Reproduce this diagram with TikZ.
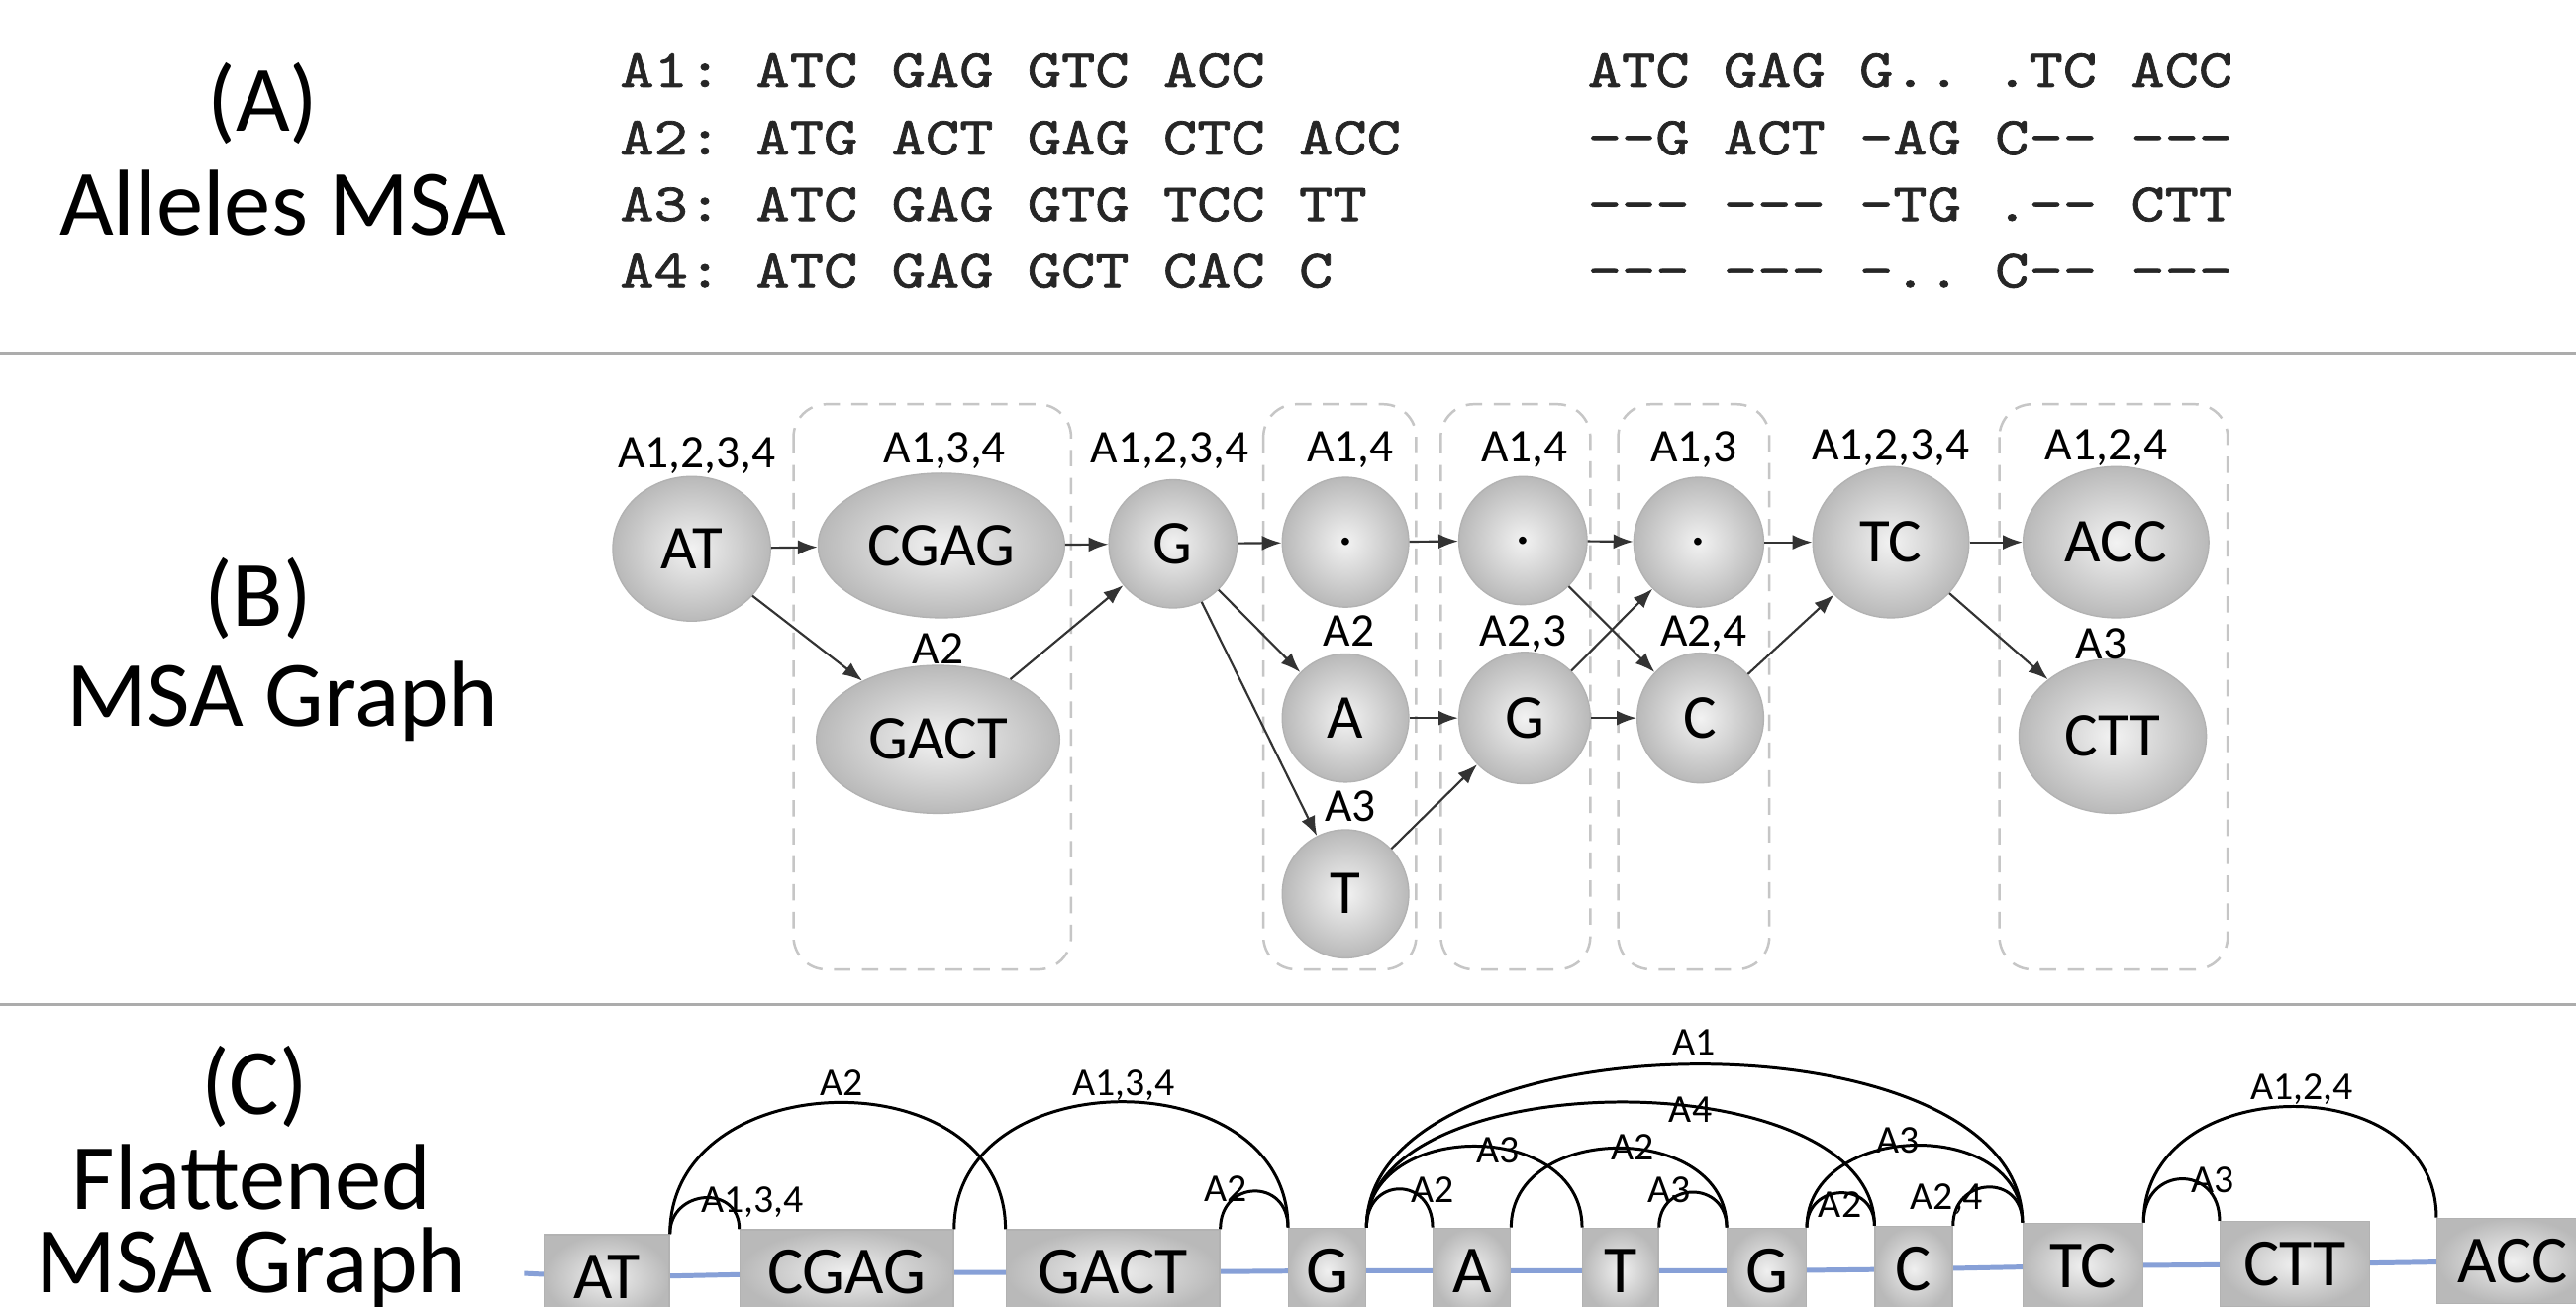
\documentclass[tikz,border=0pt]{standalone}
\usepackage{fontspec}
\setmainfont{Carlito}
\setmonofont{lmmono10-regular.otf}[FakeStretch=1.2,FakeBold=1.3]
\usetikzlibrary{shapes.geometric,arrows.meta,backgrounds}
\definecolor{seqblue}{RGB}{135,160,215}
\tikzset{
  secline/.style={draw=gray!65, line width=0.9pt},
  seclabel/.style={font=\fontsize{28.5}{30}\selectfont, anchor=base, inner sep=0pt},
  msarow/.style={font=\ttfamily\frenchspacing\fontsize{16.4}{18}\selectfont, anchor=base west, inner sep=0pt, text=black!85},
  gnode/.style={ellipse, draw=gray!60, line width=0.4pt, inner color=gray!10, outer color=gray!55,
    inner sep=0pt, font=\fontsize{19}{20}\selectfont},
  glabel/.style={font=\fontsize{14.3}{15}\selectfont, anchor=base, inner sep=0pt},
  grp/.style={draw=gray!45, dash pattern=on 5pt off 3.5pt, line width=0.75pt, rounded corners=10pt},
  arr/.style={-{Latex[length=6pt,width=4.5pt]}, draw=black!80, line width=0.65pt},
  flatbox/.style={rectangle, draw=gray!60, line width=0.4pt, inner color=gray!12, outer color=gray!55,
    inner sep=0pt, minimum height=26pt, anchor=north west, font=\fontsize{20.5}{21}\selectfont},
  flatarc/.style={draw=black, line width=0.9pt},
  alabel/.style={font=\fontsize{12}{13}\selectfont, anchor=base, inner sep=0pt},
  blueline/.style={draw=seqblue, line width=1.5pt},
}
\begin{document}
\begin{tikzpicture}[x=0.5pt,y=-0.5pt]
\useasboundingbox (0,0) rectangle (1568,795);

% section rules
\draw[secline] (0,215.5) -- (1568,215.5);
\draw[secline] (0,611.5) -- (1568,611.5);

% ---------------- (A) alleles MSA ----------------
\node[seclabel] (labA) at (160,80) {(A)};
\node[seclabel] (titA) at (172,143) {Alleles MSA};

\node[msarow] (r1) at (377,53)  {A1: ATC GAG GTC ACC};
\node[msarow] (r2) at (377,94)  {A2: ATG ACT GAG CTC ACC};
\node[msarow] (r3) at (377,134.5) {A3: ATC GAG GTG TCC TT};
\node[msarow] (r4) at (377,175) {A4: ATC GAG GCT CAC C};

\node[msarow] (s1) at (966,53)  {ATC GAG G.. .TC ACC};
\node[msarow] (s2) at (966,94)  {--G ACT -AG C-- ---};
\node[msarow] (s3) at (966,134.5) {--- --- -TG .-- CTT};
\node[msarow] (s4) at (966,175) {--- --- -.. C-- ---};

% ---------------- (B) MSA graph ----------------
\node[seclabel] (labB) at (157,381) {(B)};
\node[seclabel] (titB) at (172,442) {MSA Graph};

% column groups
\draw[grp] (483,246) rectangle (652,590);
\draw[grp] (769,246) rectangle (862,590);
\draw[grp] (877,246) rectangle (968,590);
\draw[grp] (985,246) rectangle (1077,590);
\draw[grp] (1217,246) rectangle (1356,590);

% graph nodes
\node[gnode, minimum width=48pt, minimum height=44pt]   (bAT)   at (421,334)  {AT};
\node[gnode, minimum width=75pt, minimum height=44pt]   (bCGAG) at (573,332)  {CGAG};
\node[gnode, minimum width=74pt, minimum height=45pt]   (bGACT) at (571,450)  {GACT};
\node[gnode, minimum width=39pt, minimum height=39pt]   (bG)    at (714,331)  {G};
\node[gnode, minimum width=38.5pt, minimum height=39.5pt] (bD1) at (819,330)  {.};
\node[gnode, minimum width=38.5pt, minimum height=39pt] (bA)    at (819,437)  {A};
\node[gnode, minimum width=38.5pt, minimum height=39pt] (bT)    at (819,544)  {T};
\node[gnode, minimum width=39pt, minimum height=39pt]   (bD2)   at (927,329)  {.};
\node[gnode, minimum width=40pt, minimum height=40pt]   (bG2)   at (928,437)  {G};
\node[gnode, minimum width=39.5pt, minimum height=39.5pt] (bD3) at (1034,330) {.};
\node[gnode, minimum width=38.5pt, minimum height=39.5pt] (bC)  at (1035,437) {C};
\node[gnode, minimum width=47.5pt, minimum height=46pt] (bTC)   at (1151,330) {TC};
\node[gnode, minimum width=56.5pt, minimum height=46pt] (bACC)  at (1288,330) {ACC};
\node[gnode, minimum width=57pt, minimum height=47pt]   (bCTT)  at (1286,448) {CTT};

% allele sets of the graph nodes
\node[glabel] (lAT)   at (424,285)  {A1,2,3,4};
\node[glabel] (lCGAG) at (575,282)  {A1,3,4};
\node[glabel] (lGACT) at (571,404)  {A2};
\node[glabel] (lG)    at (712,282)  {A1,2,3,4};
\node[glabel] (lD1)   at (822,281)  {A1,4};
\node[glabel] (lA)    at (821,393)  {A2};
\node[glabel] (lT)    at (822,500)  {A3};
\node[glabel] (lD2)   at (928,281)  {A1,4};
\node[glabel] (lG2)   at (927,393)  {A2,3};
\node[glabel] (lD3)   at (1031,281) {A1,3};
\node[glabel] (lC)    at (1037,393) {A2,4};
\node[glabel] (lTC)   at (1151,280) {A1,2,3,4};
\node[glabel] (lACC)  at (1282,280) {A1,2,4};
\node[glabel] (lCTT)  at (1279,401) {A3};

% graph edges
\draw[arr] (bAT) -- (bCGAG);
\draw[arr] (bAT) -- (bGACT);
\draw[arr] (bCGAG) -- (bG);
\draw[arr] (bGACT) -- (bG);
\draw[arr] (bG) -- (bD1);
\draw[arr] (bG) -- (bA);
\draw[arr] (bG) -- (bT);
\draw[arr] (bD1) -- (bD2);
\draw[arr] (bA) -- (bG2);
\draw[arr] (bT) -- (bG2);
\draw[arr] (bD2) -- (bD3);
\draw[arr] (bD2) -- (bC);
\draw[arr] (bG2) -- (bD3);
\draw[arr] (bG2) -- (bC);
\draw[arr] (bD3) -- (bTC);
\draw[arr] (bC) -- (bTC);
\draw[arr] (bTC) -- (bACC);
\draw[arr] (bTC) -- (bCTT);

% ---------------- (C) flattened MSA graph ----------------
\node[seclabel] (labC)  at (155,678) {(C)};
\node[seclabel] (titC1) at (153,736) {Flattened};
\node[seclabel] (titC2) at (153,787) {MSA Graph};

\node[flatbox, minimum width=38pt]   (cAT)   at (331,751)  {AT};
\node[flatbox, minimum width=65pt]   (cCGAG) at (450,748)  {CGAG};
\node[flatbox, minimum width=65pt]   (cGACT) at (612,748)  {GACT};
\node[flatbox, minimum width=23.5pt] (cG)    at (784,747)  {G};
\node[flatbox, minimum width=23.5pt] (cA)    at (872,747)  {A};
\node[flatbox, minimum width=23pt]   (cT)    at (963,747)  {T};
\node[flatbox, minimum width=24pt]   (cG2)   at (1051,747) {G};
\node[flatbox, minimum width=23.5pt] (cC)    at (1141,746) {C};
\node[flatbox, minimum width=36.5pt] (cTC)   at (1231,744) {TC};
\node[flatbox, minimum width=45.5pt] (cCTT)  at (1351,743) {CTT};
\node[flatbox, minimum width=46pt]   (cACC)  at (1483,741) {ACC};
\coordinate (cstart) at (319,775);

% arcs between the flattened nodes
\draw[flatarc] (cAT.north east) to[out=90,in=90,looseness=1.66] (cCGAG.north west);
\node[alabel] (e1) at (458,738) {A1,3,4};
\draw[flatarc] (cAT.north east) to[out=90,in=90,looseness=1.31] (cGACT.north west);
\node[alabel] (e2) at (512,667) {A2};
\draw[flatarc] (cCGAG.north east) to[out=90,in=90,looseness=1.29] (cG.north west);
\node[alabel] (e3) at (684,667) {A1,3,4};
\draw[flatarc] (cGACT.north east) to[out=90,in=90,looseness=1.87] (cG.north west);
\node[alabel] (e4) at (746,731) {A2};
\draw[flatarc] (cG.north east) to[out=90,in=90,looseness=0.835] (cTC.north west);
\node[alabel] (e5) at (1031,642) {A1};
\draw[flatarc] (cG.north east) to[out=90,in=90,looseness=0.835] (cC.north west);
\node[alabel] (e6) at (1029,683) {A4};
\draw[flatarc] (cG.north east) to[out=90,in=90,looseness=1.29] (cT.north west);
\node[alabel] (e7) at (912,708) {A3};
\draw[flatarc] (cG.north east) to[out=90,in=90,looseness=1.99] (cA.north west);
\node[alabel] (e8) at (872,732) {A2};
\draw[flatarc] (cA.north east) to[out=90,in=90,looseness=1.26] (cG2.north west);
\node[alabel] (e9) at (994,706) {A2};
\draw[flatarc] (cT.north east) to[out=90,in=90,looseness=1.78] (cG2.north west);
\node[alabel] (e10) at (1016,732) {A3};
\draw[flatarc] (cG2.north east) to[out=90,in=90,looseness=1.26] (cTC.north west);
\node[alabel] (e11) at (1155,702) {A3};
\draw[flatarc] (cG2.north east) to[out=90,in=90,looseness=1.70] (cC.north west);
\node[alabel] (e12) at (1120,741) {A2};
\draw[flatarc] (cC.north east) to[out=90,in=90,looseness=1.82] (cTC.north west);
\node[alabel] (e13) at (1185,736) {A2,4};
\draw[flatarc] (cTC.north east) to[out=90,in=90,looseness=1.92] (cCTT.north west);
\node[alabel] (e14) at (1347,726) {A3};
\draw[flatarc] (cTC.north east) to[out=90,in=90,looseness=1.32] (cACC.north west);
\node[alabel] (e15) at (1401,669) {A1,2,4};

\begin{scope}[on background layer]
  \fill[white] (0,0) rectangle (1568,795);
  \draw[blueline] (cstart) -- (cAT.center) -- (cCGAG.center) -- (cGACT.center) -- (cG.center)
    -- (cA.center) -- (cT.center) -- (cG2.center) -- (cC.center) -- (cTC.center)
    -- (cCTT.center) -- (cACC.center);
\end{scope}
\end{tikzpicture}
\end{document}
